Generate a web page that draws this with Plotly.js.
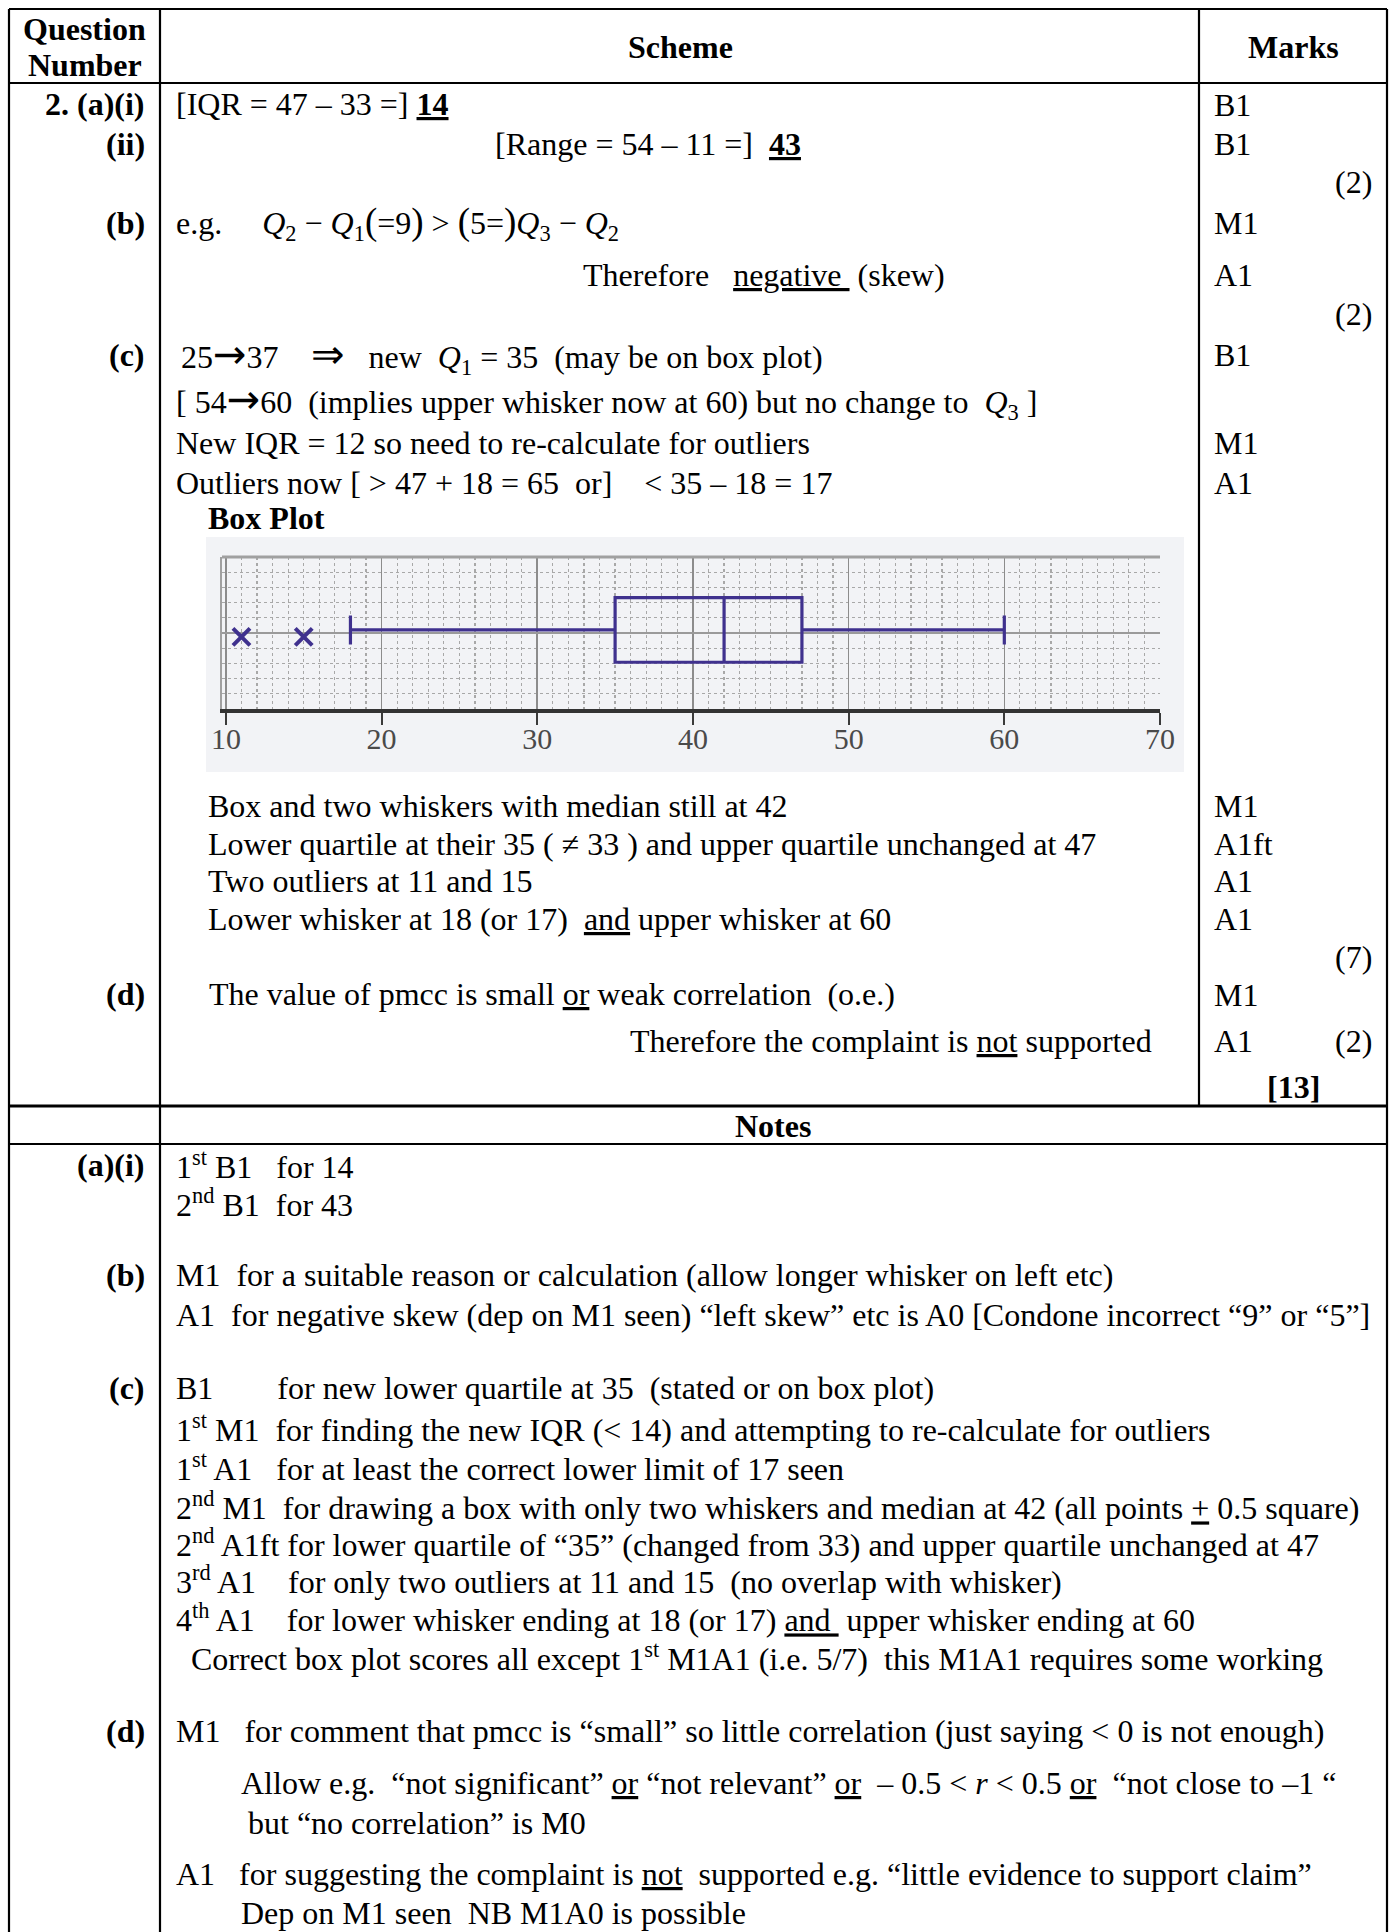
<!DOCTYPE html>
<html>
<head>
<meta charset="utf-8">
<script src="https://cdn.plot.ly/plotly-3.0.1.min.js"></script>
<style>html,body{margin:0;padding:0;background:#fff}#chart{width:1392px;height:1932px}</style>
</head>
<body>
<div id="chart"></div>
<script>
// ---------------- data ----------------
const boxQ1 = [35];
const boxMedian = [42];
const boxQ3 = [47];
const lowerWhisker = [18];
const upperWhisker = [60];
const outliers = [11, 15];
const tickValues = [10, 20, 30, 40, 50, 60, 70];
const tickLabels = ['10', '20', '30', '40', '50', '60', '70'];

const ARROW = '<span style="font-family:DejaVu Sans;font-size:40px">→</span>';
const DARROW = '<span style="font-size:40px">⇒</span>';
const LP = '<span style="font-size:37px">(</span>';
const RP = '<span style="font-size:37px">)</span>';

const headerTexts = ['Question', 'Number', 'Scheme', 'Marks', 'Notes'];
const questionLabels = ['2. (a)(i)', '(ii)', '(b)', '(c)', '(d)'];
const schemeLines = [
  '[IQR = 47 – 33 =] <b><u>14</u></b>',
  '[Range = 54 – 11 =]  <b><u>43</u></b>',
  'e.g.     <i>Q</i><sub>2</sub> − <i>Q</i><sub>1</sub>' + LP + '=9' + RP + ' &gt; ' + LP + '5=' + RP +
    '<i>Q</i><sub>3</sub> − <i>Q</i><sub>2</sub>',
  'Therefore   <u>negative </u> (skew)',
  '25' + ARROW + '37    ' + DARROW + '   new  <i>Q</i><sub>1</sub> = 35  (may be on box plot)',
  '[ 54' + ARROW + '60  (implies upper whisker now at 60) but no change to  <i>Q</i><sub>3</sub> ]',
  'New IQR = 12 so need to re-calculate for outliers',
  'Outliers now [ &gt; 47 + 18 = 65  or]    &lt; 35 – 18 = 17',
  '<b>Box Plot</b>',
  'Box and two whiskers with median still at 42',
  'Lower quartile at their 35 ( ≠ 33 ) and upper quartile unchanged at 47',
  'Two outliers at 11 and 15',
  'Lower whisker at 18 (or 17)  <u>and</u> upper whisker at 60',
  'The value of pmcc is small <u>or</u> weak correlation  (o.e.)',
  'Therefore the complaint is <u>not</u> supported'
];
const markLabels = ['B1', 'B1', '(2)', 'M1', 'A1', '(2)', 'B1', 'M1', 'A1',
  'M1', 'A1ft', 'A1', 'A1', '(7)', 'M1', 'A1', '(2)', '[13]'];
const noteLabels = ['(a)(i)', '(b)', '(c)', '(d)'];
const noteLines = [
  '1<sup>st</sup> B1   for 14',
  '2<sup>nd</sup> B1  for 43',
  'M1  for a suitable reason or calculation (allow longer whisker on left etc)',
  'A1  for negative skew (dep on M1 seen) “left skew” etc is A0 [Condone incorrect “9” or “5”]',
  'B1        for new lower quartile at 35  (stated or on box plot)',
  '1<sup>st</sup> M1  for finding the new IQR (&lt; 14) and attempting to re-calculate for outliers',
  '1<sup>st</sup> A1   for at least the correct lower limit of 17 seen',
  '2<sup>nd</sup> M1  for drawing a box with only two whiskers and median at 42 (all points <u>+</u> 0.5 square)',
  '2<sup>nd</sup> A1ft for lower quartile of “35” (changed from 33) and upper quartile unchanged at 47',
  '3<sup>rd</sup> A1    for only two outliers at 11 and 15  (no overlap with whisker)',
  '4<sup>th</sup> A1    for lower whisker ending at 18 (or 17) <u>and </u> upper whisker ending at 60',
  'Correct box plot scores all except 1<sup>st</sup> M1A1 (i.e. 5/7)  this M1A1 requires some working',
  'M1   for comment that pmcc is “small” so little correlation (just saying &lt; 0 is not enough)',
  'Allow e.g.  “not significant” <u>or</u> “not relevant” <u>or</u>  – 0.5 &lt; <i>r</i> &lt; 0.5 <u>or</u>  “not close to –1 “',
  'but “no correlation” is M0',
  'A1   for suggesting the complaint is <u>not</u>  supported e.g. “little evidence to support claim”',
  'Dep on M1 seen  NB M1A0 is possible'
];

// ---------------- layout (positions in page pixels) ----------------
const W = 1392, H = 1932;
const X = x => x / W;
const Y = y => 1 - y / H;
const FONT = 'Liberation Serif, Times New Roman, serif';
const FS = 32;
const INK = '#3f318e';
const BOX_POS = 5.2;
const OUTLIER_POS = 4.75;

// keep runs of spaces (outside tags) from collapsing
const nb = s => s.split(/(<[^<>]*>)/).map(p => p.charAt(0) === '<' ? p :
  p.replace(/ {2,}/g, m => '\u00a0'.repeat(m.length - 1) + ' ')).join('');
function ann(text, x, y, anchor, bold, size) {
  return {
    xref: 'paper', yref: 'paper', x: X(x), y: Y(y),
    xanchor: anchor || 'left', yanchor: 'middle', showarrow: false,
    text: bold ? '<b>' + nb(text) + '</b>' : nb(text),
    font: {family: FONT, size: size || FS, color: '#000'},
    borderpad: 0
  };
}

const headerPos = [[84.5, 29, 'center'], [84.5, 65, 'center'], [680, 47, 'center'], [1293, 47, 'center'], [773, 1126, 'center']];
const questionY = [104, 144, 223, 355, 994];
const schemePos = [[175, 104], [494, 144], [175, 223], [582, 275], [180, 355], [175, 401], [175, 443],
  [175, 483], [207, 518], [207, 806], [207, 844], [207, 881], [207, 919], [208, 994], [629, 1041]];
const markPos = [[1213, 105, 'left'], [1213, 144, 'left'], [1373, 182, 'right'], [1213, 223, 'left'],
  [1213, 275, 'left'], [1373, 314, 'right'], [1213, 355, 'left'], [1213, 443, 'left'], [1213, 483, 'left'],
  [1213, 806, 'left'], [1213, 844, 'left'], [1213, 881, 'left'], [1213, 919, 'left'], [1373, 957, 'right'],
  [1213, 995, 'left'], [1213, 1041, 'left'], [1373, 1041, 'right'], [1293, 1087, 'center']];
const noteLabelY = [1165, 1275, 1388, 1731];
const notePos = [[175, 1165], [175, 1203], [175, 1275], [175, 1315], [175, 1388], [175, 1428], [175, 1467],
  [175, 1506], [175, 1543], [175, 1580], [175, 1618], [190, 1657], [175, 1731], [240, 1783], [247, 1823],
  [175, 1874], [240, 1913]];

const annotations = [];
headerTexts.forEach((t, i) => annotations.push(ann(t, headerPos[i][0], headerPos[i][1], headerPos[i][2], true)));
questionLabels.forEach((t, i) => annotations.push(ann(t, 146, questionY[i], 'right', true)));
schemeLines.forEach((t, i) => annotations.push(ann(t, schemePos[i][0], schemePos[i][1], 'left')));
markLabels.forEach((t, i) => annotations.push(ann(t, markPos[i][0], markPos[i][1], markPos[i][2], t === '[13]')));
noteLabels.forEach((t, i) => annotations.push(ann(t, 146, noteLabelY[i], 'right', true)));
noteLines.forEach((t, i) => annotations.push(ann(t, notePos[i][0], notePos[i][1], 'left')));

function line(x0, y0, x1, y1, w, c, layer) {
  return {type: 'line', xref: 'paper', yref: 'paper', x0: X(x0), y0: Y(y0), x1: X(x1), y1: Y(y1),
    line: {color: c || '#000', width: w || 2}, layer: layer || 'above'};
}
const shapes = [
  // scanned graph background
  {type: 'rect', xref: 'paper', yref: 'paper', x0: X(206), x1: X(1184), y0: Y(537), y1: Y(772),
    fillcolor: '#f2f3f6', line: {width: 0}, layer: 'below'},
  // top border of graph paper
  line(222, 557, 1160, 557, 3, '#a0a0a0', 'above'),
  // table lines
  line(9, 9, 1387, 9, 2.2),
  line(9, 9, 9, 1932, 2.2),
  line(1387, 9, 1387, 1932, 2.2),
  line(160, 9, 160, 1932, 2.2),
  line(1199, 9, 1199, 1106, 2.2),
  line(9, 83, 1387, 83, 2.2),
  line(9, 1106, 1387, 1106, 3),
  line(9, 1144, 1387, 1144, 2.2)
];

const traces = [
  {
    type: 'box', orientation: 'h', y: [BOX_POS],
    q1: boxQ1, median: boxMedian, q3: boxQ3,
    lowerfence: lowerWhisker, upperfence: upperWhisker,
    width: 4.25, whiskerwidth: 0.45, boxpoints: false,
    line: {color: INK, width: 3.2}, fillcolor: 'rgba(0,0,0,0)', hoverinfo: 'skip'
  },
  {
    type: 'scatter', mode: 'markers', x: outliers, y: outliers.map(() => OUTLIER_POS),
    marker: {symbol: 'x-thin-open', size: 17, color: INK, line: {width: 4, color: INK}},
    hoverinfo: 'skip'
  }
];

const layout = {
  width: W, height: H,
  margin: {l: 0, r: 0, t: 0, b: 0, pad: 0},
  paper_bgcolor: '#ffffff', plot_bgcolor: 'rgba(0,0,0,0)',
  showlegend: false,
  xaxis: {
    domain: [X(222), X(1160)], range: [9.75, 70],
    tickmode: 'array', tickvals: tickValues, ticktext: tickLabels,
    ticks: 'outside', ticklen: 12, tickwidth: 2, tickcolor: '#3a3a3a',
    ticklabelstandoff: -12,
    showline: true, linecolor: '#333333', linewidth: 3.5,
    showgrid: true, gridcolor: '#8c8c8c', gridwidth: 1.6,
    minor: {dtick: 1, tick0: 0, showgrid: true, gridcolor: '#a8a8a8', griddash: 'dot', gridwidth: 1.2, ticks: ''},
    tickfont: {family: FONT, size: 30, color: '#4a4a4a'},
    zeroline: false, fixedrange: true
  },
  yaxis: {
    domain: [Y(709), Y(557)], range: [0, 10],
    tickmode: 'linear', tick0: 0, dtick: 5, showticklabels: false, ticks: '',
    showgrid: true, gridcolor: '#9a9a9a', gridwidth: 1.2,
    minor: {dtick: 1, tick0: 0, showgrid: true, gridcolor: '#a8a8a8', griddash: 'dot', gridwidth: 1.2, ticks: ''},
    showline: true, linecolor: '#a0a0a0', linewidth: 2.5,
    zeroline: false, fixedrange: true
  },
  annotations: annotations,
  shapes: shapes
};

Plotly.newPlot('chart', traces, layout, {staticPlot: true, displayModeBar: false});
</script>
</body>
</html>
